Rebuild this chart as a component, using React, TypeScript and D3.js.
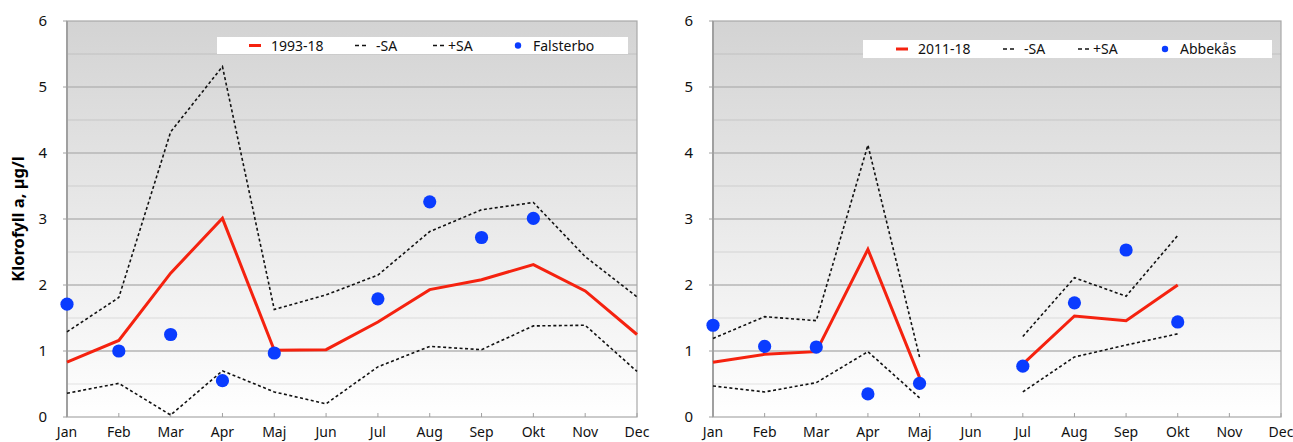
import React from "react";
import * as d3 from "d3";

const months = ["Jan", "Feb", "Mar", "Apr", "Maj", "Jun", "Jul", "Aug", "Sep", "Okt", "Nov", "Dec"];
const yTicks = [0, 1, 2, 3, 4, 5, 6];

// Falsterbo, 1993-18
const falsterboMean = [0.83, 1.16, 2.18, 3.01, 1.01, 1.02, 1.44, 1.93, 2.08, 2.31, 1.91, 1.25];
const falsterboPlus = [1.29, 1.81, 4.32, 5.31, 1.63, 1.85, 2.15, 2.81, 3.14, 3.25, 2.43, 1.82];
const falsterboMinus = [0.36, 0.51, 0.03, 0.7, 0.38, 0.2, 0.76, 1.07, 1.02, 1.38, 1.39, 0.69];
const falsterboObs = [1.71, 1.0, 1.25, 0.55, 0.97, null, 1.79, 3.26, 2.72, 3.01, null, null];

// Abbekås, 2011-18
const abbekasMean = [0.83, 0.95, 0.99, 2.54, 0.6, null, 0.8, 1.53, 1.46, 2.0, null, null];
const abbekasPlus = [1.19, 1.52, 1.46, 4.12, 0.91, null, 1.22, 2.11, 1.83, 2.75, null, null];
const abbekasMinus = [0.47, 0.38, 0.52, 0.99, 0.29, null, 0.38, 0.91, 1.09, 1.26, null, null];
const abbekasObs = [1.39, 1.07, 1.06, 0.35, 0.51, null, 0.77, 1.73, 2.53, 1.44, null, null];

const FONT = "'Noto Sans', 'DejaVu Sans', sans-serif";
const RED = "#f5220f";
const BLUE = "#0a3cff";

type Series = (number | null)[];

interface PanelProps {
  id: string;
  left: number;
  right: number;
  meanLabel: string;
  stationLabel: string;
  mean: Series;
  plus: Series;
  minus: Series;
  obs: Series;
  legendBox: { x: number; y: number; w: number; h: number };
  legendX: number[];
}

function Panel(p: PanelProps) {
  const top = 21;
  const bottom = 417;
  const x = d3.scalePoint<string>().domain(months).range([p.left, p.right]);
  const y = d3.scaleLinear().domain([0, 6]).range([bottom, top]);
  const line = d3
    .line<number | null>()
    .defined((d) => d != null)
    .x((_, i) => x(months[i]) as number)
    .y((d) => y(d as number));

  const halfTicks = d3.range(0.5, 6, 1);
  const gradId = `bg-${p.id}`;
  const ly = p.legendBox.y + p.legendBox.h / 2;

  return (
    <g>
      <defs>
        <linearGradient id={gradId} x1="0" y1="0" x2="0" y2="1">
          <stop offset="0" stopColor="#d3d3d3" />
          <stop offset="1" stopColor="#ffffff" />
        </linearGradient>
      </defs>
      <rect x={p.left} y={top} width={p.right - p.left} height={bottom - top} fill={`url(#${gradId})`} />
      {halfTicks.map((t) => (
        <line key={`h${t}`} x1={p.left} x2={p.right} y1={y(t)} y2={y(t)} stroke="#000" strokeOpacity={0.07} strokeWidth={1.5} />
      ))}
      {yTicks.slice(1, 6).map((t) => (
        <line key={`g${t}`} x1={p.left} x2={p.right} y1={y(t)} y2={y(t)} stroke="#b6b6b6" strokeWidth={1.5} />
      ))}
      {/* frame */}
      <rect x={p.left} y={top} width={p.right - p.left} height={bottom - top} fill="none" stroke="#a9a9a9" strokeWidth={1.2} />
      <line x1={p.left} x2={p.left} y1={top} y2={bottom} stroke="#a0a0a0" strokeWidth={2} />
      {/* y ticks and labels */}
      {yTicks.map((t) => (
        <g key={`yt${t}`}>
          <line x1={p.left - 4} x2={p.left} y1={y(t)} y2={y(t)} stroke="#a0a0a0" strokeWidth={1} />
          <text x={p.left - 20} y={y(t)} dy="0.35em" textAnchor="end" fontFamily={FONT} fontSize={15} fill="#111">
            {t}
          </text>
        </g>
      ))}
      {/* x ticks and labels */}
      {months.map((m) => (
        <g key={m}>
          <line x1={x(m)} x2={x(m)} y1={bottom - 4} y2={bottom} stroke="#a0a0a0" strokeWidth={1} />
          <text x={x(m)} y={437} textAnchor="middle" fontFamily={FONT} fontSize={14} fill="#111">
            {m}
          </text>
        </g>
      ))}
      {/* legend */}
      <rect x={p.legendBox.x} y={p.legendBox.y} width={p.legendBox.w} height={p.legendBox.h} fill="#fff" />
      <line x1={p.legendX[0]} x2={p.legendX[0] + 12} y1={ly} y2={ly} stroke={RED} strokeWidth={3} />
      <text x={p.legendX[0] + 22} y={ly} dy="0.36em" fontFamily={FONT} fontSize={14} fill="#111">{p.meanLabel}</text>
      <line x1={p.legendX[1]} x2={p.legendX[1] + 11} y1={ly} y2={ly} stroke="#111" strokeWidth={1.5} strokeDasharray="4,3" />
      <text x={p.legendX[1] + 21} y={ly} dy="0.36em" fontFamily={FONT} fontSize={14} fill="#111">-SA</text>
      <line x1={p.legendX[2]} x2={p.legendX[2] + 11} y1={ly} y2={ly} stroke="#111" strokeWidth={1.5} strokeDasharray="4,3" />
      <text x={p.legendX[2] + 15} y={ly} dy="0.36em" fontFamily={FONT} fontSize={14} fill="#111">+SA</text>
      <circle cx={p.legendX[3]} cy={ly} r={3.2} fill={BLUE} />
      <text x={p.legendX[3] + 15} y={ly} dy="0.36em" fontFamily={FONT} fontSize={14} fill="#111">{p.stationLabel}</text>
      {/* series */}
      <path d={line(p.plus) ?? ""} fill="none" stroke="#111" strokeWidth={1.6} strokeDasharray="3,2.5" />
      <path d={line(p.minus) ?? ""} fill="none" stroke="#111" strokeWidth={1.6} strokeDasharray="3,2.5" />
      <path d={line(p.mean) ?? ""} fill="none" stroke={RED} strokeWidth={3} strokeLinejoin="miter" />
      {p.obs.map((v, i) =>
        v == null ? null : <circle key={`o${i}`} cx={x(months[i])} cy={y(v)} r={6.6} fill={BLUE} />
      )}
    </g>
  );
}

export default function App() {
  return (
    <div style={{ position: "absolute", left: 0, top: 0 }}>
      <svg width={1293} height={442} style={{ display: "block", background: "#fff" }}>
        <text
          transform="translate(24,219) rotate(-90)"
          textAnchor="middle"
          fontFamily={FONT}
          fontWeight="bold"
          fontSize={16.5}
          fill="#000"
        >
          Klorofyll a, µg/l
        </text>
        <Panel
          id="falsterbo"
          left={67}
          right={637}
          meanLabel="1993-18"
          stationLabel="Falsterbo"
          mean={falsterboMean}
          plus={falsterboPlus}
          minus={falsterboMinus}
          obs={falsterboObs}
          legendBox={{ x: 217, y: 37, w: 411, h: 17 }}
          legendX={[249, 355, 433, 518]}
        />
        <Panel
          id="abbekas"
          left={713}
          right={1281}
          meanLabel="2011-18"
          stationLabel="Abbekås"
          mean={abbekasMean}
          plus={abbekasPlus}
          minus={abbekasMinus}
          obs={abbekasObs}
          legendBox={{ x: 863, y: 40, w: 409, h: 18 }}
          legendX={[896, 1003, 1078, 1165]}
        />
      </svg>
    </div>
  );
}
